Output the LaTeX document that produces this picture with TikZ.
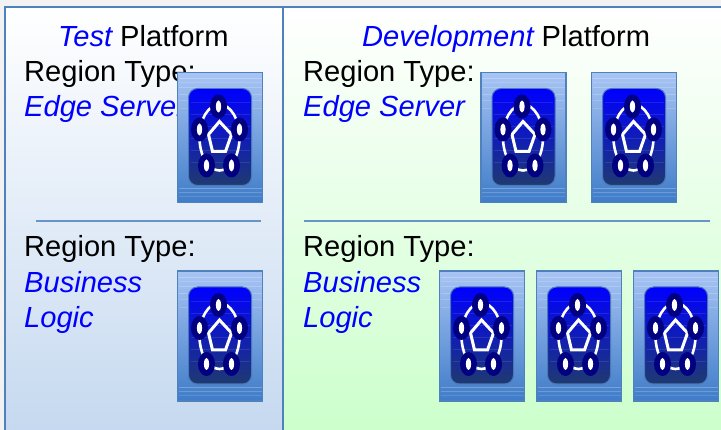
\documentclass[tikz,border=0pt]{standalone}
\usepackage{fontspec}
\setmainfont{Liberation Sans}
\definecolor{panelborder}{HTML}{4F81BD}
\definecolor{leftbottom}{HTML}{C6D9F0}
\definecolor{rightbottom}{HTML}{CCFFCC}
\definecolor{pagegrey}{HTML}{F2F2F2}
\definecolor{navynode}{HTML}{000080}
\definecolor{cardtop}{HTML}{A8C4F4}
\definecolor{cardmid}{HTML}{7BA2E0}
\definecolor{cardbottom}{HTML}{3F7CC8}
\definecolor{screenmid}{HTML}{1030B8}
\definecolor{screenbottom}{HTML}{1F3A70}
\definecolor{screenedge}{HTML}{4A78B8}
\tikzset{
  x=1pt,y=-1pt,
  label text/.style={anchor=base west,inner sep=0pt,font=\fontsize{29.1}{35}\selectfont,text=black},
  title text/.style={label text},
  panel line/.style={draw=panelborder,line width=2.8pt},
  divider/.style={draw=panelborder!85,line width=1.6pt},
  pics/serverdevice/.style={code={
    \shade[top color=cardtop,middle color=cardmid,bottom color=cardbottom,draw=panelborder,line width=1.3pt]
      (0,0) rectangle (85,130);
    \foreach \yy/\oo in {6/.25,10/.15,15/.2,22/.2,28/.15,36/.15,116/.25,120/.2,124/.12}
      \draw[white,opacity=\oo,line width=.7pt] (1,\yy) -- (84,\yy);
    \shade[rounded corners=9pt,top color=blue,middle color=screenmid,bottom color=screenbottom,draw=screenedge,line width=1pt]
      (11,16) rectangle (74,113);
    \foreach \yy/\oo in {30/.1,42/.1,54/.1,66/.1,78/.1,90/.1}
      \draw[white,opacity=\oo,line width=.6pt] (13,\yy) -- (72,\yy);
    \draw[white,line width=2.6pt] (42,65) ellipse [x radius=20,y radius=33];
    \draw[white,line width=3pt,line join=miter] (42,49) -- (54,62) -- (48,79) -- (35,79) -- (31,62) -- cycle;
    \foreach \cx/\cy in {41/34,22/57,62/57,29/93,54/93}{
      \fill[navynode] (\cx,\cy) ellipse [x radius=8.5,y radius=12];
      \fill[white] (\cx,\cy) ellipse [x radius=2.6,y radius=6];
    }
  }}
}
\newcommand{\slant}[1]{\textcolor{blue}{\itshape #1}}
\begin{document}
\begin{tikzpicture}
\useasboundingbox (0,0) rectangle (721,430);
\fill[pagegrey] (0,0) rectangle (721,430);
\shade[top color=white,bottom color=leftbottom] (5,7) rectangle (283,430);
\shade[top color=white,bottom color=rightbottom] (283,7) rectangle (721,430);
\coordinate (tl) at (5,7);
\coordinate (tm) at (283,7);
\coordinate (tr) at (721,7);
\coordinate (bl) at (5,430);
\coordinate (bm) at (283,430);
\draw[panel line] (bl) -- (tl) -- (tr);
\draw[panel line] (tm) -- (bm);
\coordinate (d1a) at (36,221);
\coordinate (d1b) at (261,221);
\coordinate (d2a) at (304,221);
\coordinate (d2b) at (710,221);
\draw[divider] (d1a) -- (d1b);
\draw[divider] (d2a) -- (d2b);

\node[title text] (ttest) at (58,46.5) {\slant{Test} Platform};
\node[title text] (tdev) at (362,46.5) {\slant{Development} Platform};

\node[label text] (r1) at (24,81.5) {Region Type:};
\node[label text] (e1) at (24,116.5) {\slant{Edge Server}};
\node[label text] (r2) at (24,256.5) {Region Type:};
\node[label text] (b1) at (24,292.5) {\slant{Business}};
\node[label text] (l1) at (24,327.5) {\slant{Logic}};

\node[label text] (r3) at (303,81.5) {Region Type:};
\node[label text] (e2) at (303,116.5) {\slant{Edge Server}};
\node[label text] (r4) at (303,256.5) {Region Type:};
\node[label text] (b2) at (303,292.5) {\slant{Business}};
\node[label text] (l2) at (303,327.5) {\slant{Logic}};

\pic at (177.5,72.5) {serverdevice};
\pic at (481,72.5) {serverdevice};
\pic at (591.5,72.5) {serverdevice};
\pic at (177.5,271) {serverdevice};
\pic at (439.5,271) {serverdevice};
\pic at (536.5,271) {serverdevice};
\pic at (633.5,271) {serverdevice};
\end{tikzpicture}
\end{document}
